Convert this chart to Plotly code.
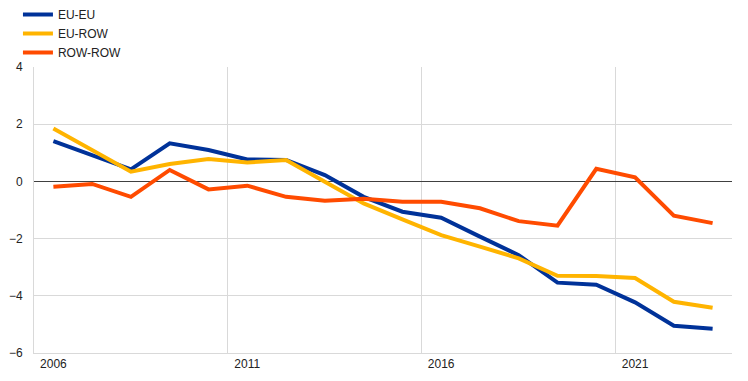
import plotly.graph_objects as go

years = list(range(2006, 2024))
eu_eu = [1.41, 0.92, 0.42, 1.33, 1.10, 0.77, 0.75, 0.22, -0.54, -1.06, -1.27, -1.93, -2.58, -3.54, -3.61, -4.23, -5.05, -5.15]
eu_row = [1.85, 1.10, 0.34, 0.61, 0.78, 0.66, 0.75, -0.01, -0.77, -1.33, -1.88, -2.28, -2.69, -3.30, -3.31, -3.38, -4.21, -4.42]
row_row = [-0.19, -0.09, -0.54, 0.40, -0.28, -0.15, -0.54, -0.68, -0.61, -0.71, -0.71, -0.94, -1.39, -1.55, 0.44, 0.14, -1.20, -1.46]

x_tick_vals = [2006, 2011, 2016, 2021]
x_tick_text = ["2006", "2011", "2016", "2021"]
y_tick_vals = [-6, -4, -2, 0, 2, 4]

series = [
    ("EU-EU", eu_eu, "#003299"),
    ("EU-ROW", eu_row, "#FFB400"),
    ("ROW-ROW", row_row, "#FF4B00"),
]

fig = go.Figure()
for name, vals, color in series:
    fig.add_trace(go.Scatter(x=years, y=vals, name=name, mode="lines",
                             line=dict(color=color, width=4)))

grid = "#d9d9d9"
fig.update_layout(
    width=748, height=381,
    margin=dict(l=34, r=16, t=67, b=28, autoexpand=False),
    plot_bgcolor="white", paper_bgcolor="white",
    font=dict(family="Liberation Sans, Arial, sans-serif", size=12, color="#222222"),
    showlegend=True,
    legend=dict(xref="container", yref="container", x=0.024, y=1.034,
                xanchor="left", yanchor="top", orientation="v",
                font=dict(size=12, color="#222222"), tracegroupgap=0,
                bgcolor="rgba(0,0,0,0)"),
    xaxis=dict(range=[2005.5, 2023.5], tickmode="array", tickvals=x_tick_vals,
               ticktext=x_tick_text, showgrid=False, zeroline=False,
               showline=True, linecolor=grid, linewidth=1, ticks="",
               minor=dict(tickmode="array", tickvals=[2010.5, 2015.5, 2020.5],
                          showgrid=True, gridcolor=grid, gridwidth=1, ticks="")),
    yaxis=dict(range=[-6, 4], tickmode="array", tickvals=y_tick_vals,
               showgrid=True, gridcolor=grid, gridwidth=1,
               zeroline=True, zerolinecolor="#404040", zerolinewidth=1,
               showline=True, linecolor=grid, linewidth=1,
               ticks="", ticklabelstandoff=8),
)

fig.write_html("out.html", config={"displayModeBar": False},
               post_script="document.body.style.margin='0';")
